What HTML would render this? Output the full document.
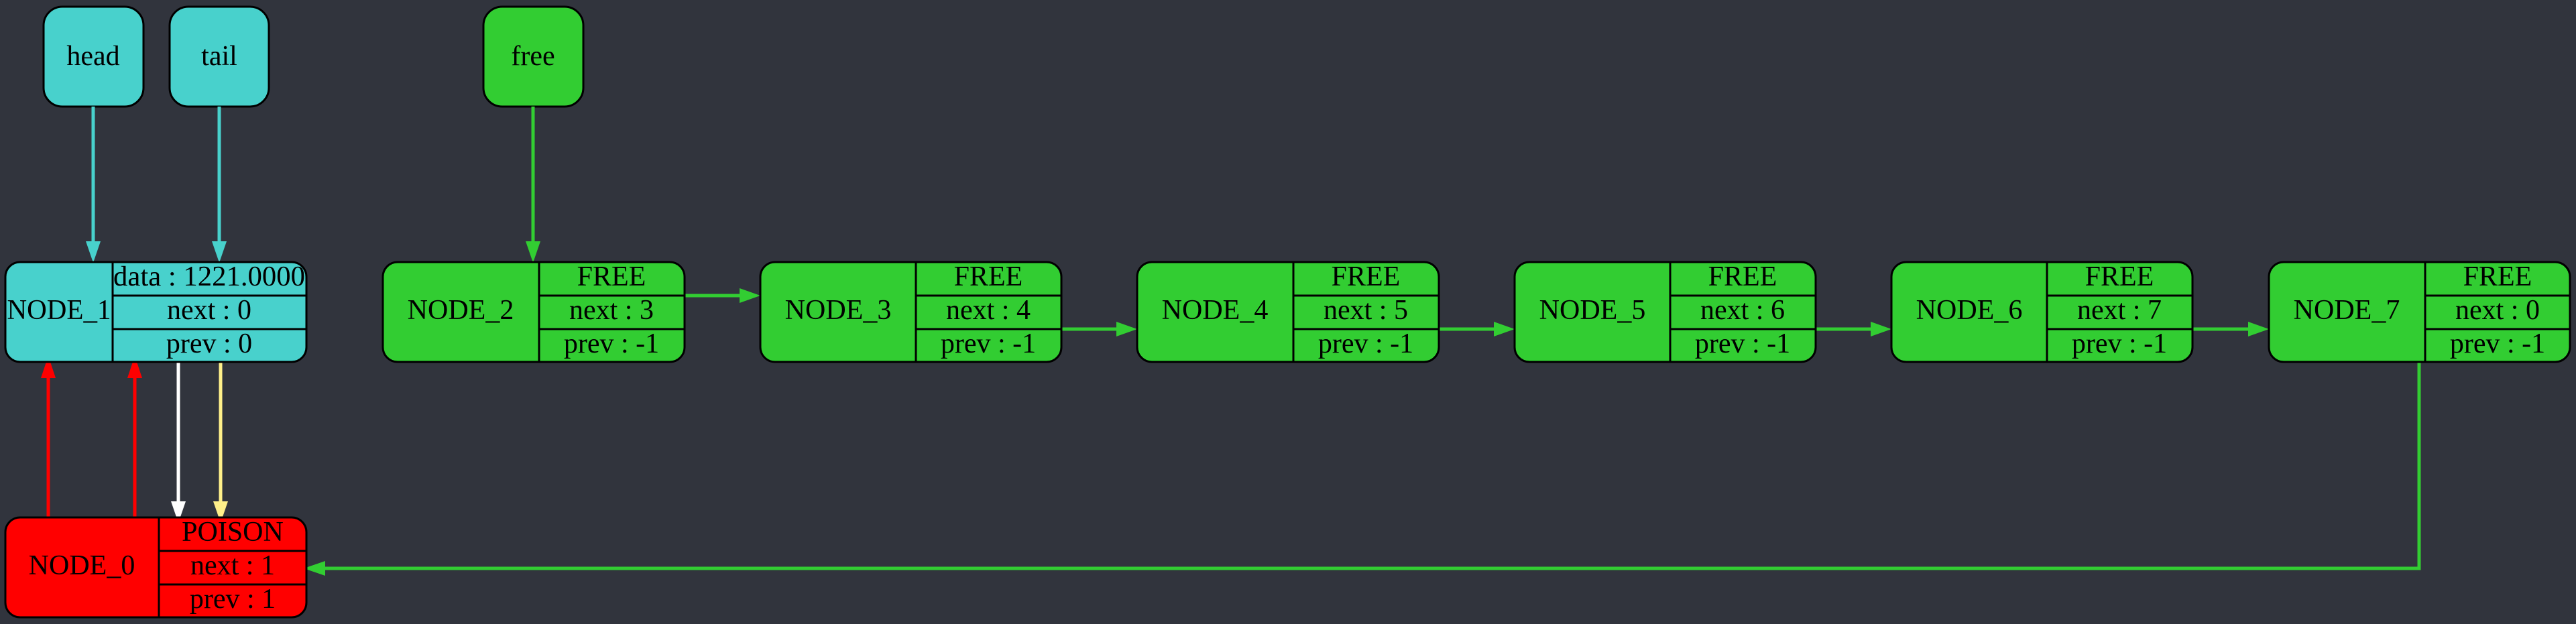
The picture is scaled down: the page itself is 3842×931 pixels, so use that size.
<!DOCTYPE html>
<html><head><meta charset="utf-8"><style>
html,body{margin:0;padding:0;background:#31343d;}
svg{display:block;}
text{font-family:"Liberation Serif",serif;font-size:42px;fill:#000;text-anchor:middle;}
</style></head><body>
<svg width="3842" height="931" viewBox="0 0 3842 931" xmlns="http://www.w3.org/2000/svg">
<rect width="3842" height="931" fill="#31343d"/>
<g stroke="#000" stroke-width="3">
<rect x="65" y="10" width="149" height="149" rx="28" fill="#48d1cc"/>
<rect x="253" y="10" width="148" height="149" rx="28" fill="#48d1cc"/>
<rect x="721" y="10" width="149" height="149" rx="28" fill="#32cd32"/>
</g>
<text x="139" y="97">head</text>
<text x="327" y="97">tail</text>
<text x="795" y="97">free</text>

<!-- edges -->
<g stroke-width="5" fill="none">
<line x1="139" y1="159" x2="139" y2="362" stroke="#48d1cc"/>
<line x1="327" y1="159" x2="327" y2="362" stroke="#48d1cc"/>
<line x1="795" y1="159" x2="795" y2="362" stroke="#32cd32"/>
<line x1="72" y1="772" x2="72" y2="562" stroke="#ff0000"/>
<line x1="201" y1="772" x2="201" y2="562" stroke="#ff0000"/>
<line x1="266" y1="540" x2="266" y2="750" stroke="#ffffff"/>
<line x1="329" y1="540" x2="329" y2="750" stroke="#fff08a"/>
<line x1="1021" y1="441" x2="1105" y2="441" stroke="#32cd32"/>
<line x1="1583" y1="491" x2="1667" y2="491" stroke="#32cd32"/>
<line x1="2146" y1="491" x2="2230" y2="491" stroke="#32cd32"/>
<line x1="2708" y1="491" x2="2792" y2="491" stroke="#32cd32"/>
<line x1="3270" y1="491" x2="3355" y2="491" stroke="#32cd32"/>
<polyline points="3608,541 3608,848 483,848" stroke="#32cd32"/>
</g>
<g>
<polygon points="128,360 150,360 139,392" fill="#48d1cc"/>
<polygon points="316,360 338,360 327,392" fill="#48d1cc"/>
<polygon points="784,360 806,360 795,392" fill="#32cd32"/>
<polygon points="61,564 83,564 72,531" fill="#ff0000"/>
<polygon points="190,564 212,564 201,531" fill="#ff0000"/>
<polygon points="255,748 277,748 266,780" fill="#ffffff"/>
<polygon points="318,748 340,748 329,780" fill="#fff08a"/>
<polygon points="1103,430 1103,452 1134,441" fill="#32cd32"/>
<polygon points="1665,480 1665,502 1696,491" fill="#32cd32"/>
<polygon points="2228,480 2228,502 2259,491" fill="#32cd32"/>
<polygon points="2790,480 2790,502 2821,491" fill="#32cd32"/>
<polygon points="3353,480 3353,502 3384,491" fill="#32cd32"/>
<polygon points="485,837 485,859 453,848" fill="#32cd32"/>
</g>

<!-- NODE_1 -->
<g stroke="#000" stroke-width="3" fill="none">
<rect x="8" y="391" width="449" height="149" rx="22" fill="#48d1cc"/>
<line x1="168" y1="391" x2="168" y2="540"/><line x1="168" y1="441" x2="457" y2="441"/><line x1="168" y1="491" x2="457" y2="491"/>
<rect x="8" y="772" width="449" height="149" rx="22" fill="#ff0000"/>
<line x1="237" y1="772" x2="237" y2="921"/><line x1="237" y1="822" x2="457" y2="822"/><line x1="237" y1="872" x2="457" y2="872"/>
</g>
<text x="88" y="476" textLength="155" lengthAdjust="spacingAndGlyphs">NODE_1</text>
<text x="312" y="426" textLength="286" lengthAdjust="spacingAndGlyphs">data : 1221.0000</text>
<text x="312" y="476">next : 0</text>
<text x="312" y="526">prev : 0</text>
<text x="122" y="857">NODE_0</text>
<text x="347" y="807">POISON</text>
<text x="347" y="857">next : 1</text>
<text x="347" y="907">prev : 1</text>

<!-- free nodes -->
<g stroke="#000" stroke-width="3" fill="none">
<rect x="571" y="391" width="450" height="149" rx="22" fill="#32cd32"/><line x1="804" y1="391" x2="804" y2="540"/><line x1="804" y1="441" x2="1021" y2="441"/><line x1="804" y1="491" x2="1021" y2="491"/>
<rect x="1134" y="391" width="449" height="149" rx="22" fill="#32cd32"/><line x1="1366" y1="391" x2="1366" y2="540"/><line x1="1366" y1="441" x2="1583" y2="441"/><line x1="1366" y1="491" x2="1583" y2="491"/>
<rect x="1696" y="391" width="450" height="149" rx="22" fill="#32cd32"/><line x1="1929" y1="391" x2="1929" y2="540"/><line x1="1929" y1="441" x2="2146" y2="441"/><line x1="1929" y1="491" x2="2146" y2="491"/>
<rect x="2259" y="391" width="449" height="149" rx="22" fill="#32cd32"/><line x1="2491" y1="391" x2="2491" y2="540"/><line x1="2491" y1="441" x2="2708" y2="441"/><line x1="2491" y1="491" x2="2708" y2="491"/>
<rect x="2821" y="391" width="449" height="149" rx="22" fill="#32cd32"/><line x1="3053" y1="391" x2="3053" y2="540"/><line x1="3053" y1="441" x2="3270" y2="441"/><line x1="3053" y1="491" x2="3270" y2="491"/>
<rect x="3384" y="391" width="449" height="149" rx="22" fill="#32cd32"/><line x1="3617" y1="391" x2="3617" y2="540"/><line x1="3617" y1="441" x2="3833" y2="441"/><line x1="3617" y1="491" x2="3833" y2="491"/>
</g>
<text x="687" y="476">NODE_2</text><text x="912" y="426">FREE</text><text x="912" y="476">next : 3</text><text x="912" y="526">prev : -1</text>
<text x="1250" y="476">NODE_3</text><text x="1474" y="426">FREE</text><text x="1474" y="476">next : 4</text><text x="1474" y="526">prev : -1</text>
<text x="1812" y="476">NODE_4</text><text x="2037" y="426">FREE</text><text x="2037" y="476">next : 5</text><text x="2037" y="526">prev : -1</text>
<text x="2375" y="476">NODE_5</text><text x="2599" y="426">FREE</text><text x="2599" y="476">next : 6</text><text x="2599" y="526">prev : -1</text>
<text x="2937" y="476">NODE_6</text><text x="3161" y="426">FREE</text><text x="3161" y="476">next : 7</text><text x="3161" y="526">prev : -1</text>
<text x="3500" y="476">NODE_7</text><text x="3725" y="426">FREE</text><text x="3725" y="476">next : 0</text><text x="3725" y="526">prev : -1</text>
</svg>
</body></html>
